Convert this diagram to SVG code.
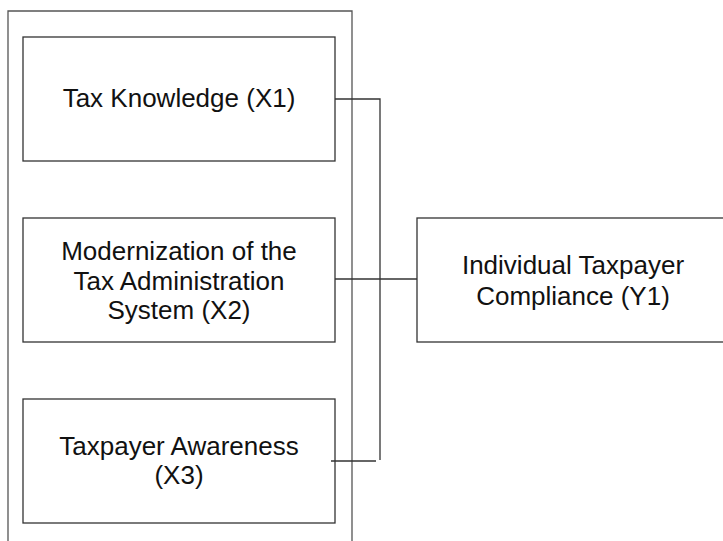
<svg xmlns="http://www.w3.org/2000/svg" width="723" height="541" viewBox="0 0 723 541">
<style>
.box{fill:#fff;stroke:#333;stroke-width:1.3}
.frame{fill:none;stroke:#555;stroke-width:1.3}
.con{fill:none;stroke:#333;stroke-width:1.3}
text{font-family:"Liberation Sans",Arial,sans-serif;font-size:26px;fill:#111;text-anchor:middle}
</style>
<rect width="723" height="541" fill="#fff"/>
<path class="frame" d="M8,541 V11 H352 V541"/>
<g id="x1">
<rect class="box" x="23" y="37" width="312" height="124"/>
<text x="179" y="107">Tax Knowledge (X1)</text>
</g>
<g id="x2">
<rect class="box" x="23" y="218" width="312" height="124"/>
<text x="179" y="260">Modernization of the</text>
<text x="179" y="290">Tax Administration</text>
<text x="179" y="319">System (X2)</text>
</g>
<g id="x3">
<rect class="box" x="23" y="399" width="312" height="124"/>
<text x="179" y="455">Taxpayer Awareness</text>
<text x="179" y="484">(X3)</text>
</g>
<g id="y1">
<rect class="box" x="417" y="218" width="312" height="124"/>
<text x="573" y="274">Individual Taxpayer</text>
<text x="573" y="305">Compliance (Y1)</text>
</g>
<g id="connectors">
<path class="con" d="M335,99 H380 V460"/>
<path class="con" d="M335,279 H417"/>
<path class="con" d="M331,461 H376"/>
</g>
</svg>
